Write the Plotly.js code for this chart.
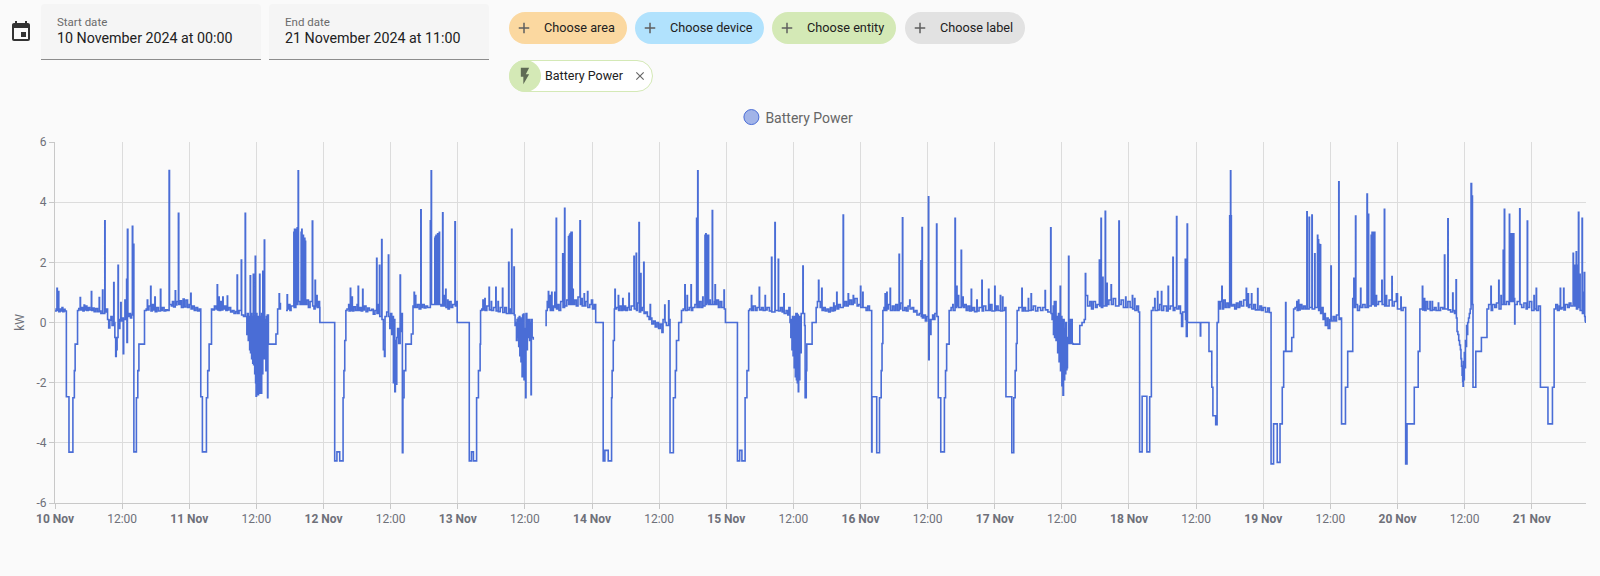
<!DOCTYPE html>
<html><head><meta charset="utf-8">
<script src="https://cdn.plot.ly/plotly-3.0.1.min.js"></script>
<style>
html,body{margin:0;padding:0;background:#fafafa;width:1600px;height:576px;overflow:hidden;font-family:Roboto,sans-serif}
#chart{position:absolute;left:0;top:0;width:1600px;height:576px}
.abs{position:absolute;box-sizing:border-box}
.field{background:#f5f5f5;border-bottom:1px solid #8c8c8c;height:56px;top:4px;border-radius:4px 4px 0 0}
.field .l{position:absolute;left:16px;top:11px;font-size:11.5px;color:#6b6b6b}
.field .v{position:absolute;left:16px;top:26px;font-size:14.25px;color:#212121;white-space:nowrap}
.chip{height:32px;top:12px;border-radius:16px;font-size:12.7px;color:#212121;line-height:32px;white-space:nowrap}
.chip svg{position:absolute;left:6px;top:7px}
.chip span{position:absolute;left:35px}
</style></head><body>
<div id="chart"></div>
<svg class="abs" style="left:9px;top:20px" width="24" height="24" viewBox="0 0 24 24"><path fill="#333" d="M19 19H5V8H19M16 1V3H8V1H6V3H5C3.89 3 3 3.89 3 5V19A2 2 0 0 0 5 21H19A2 2 0 0 0 21 19V5C21 3.89 20.1 3 19 3H18V1M17 12H12V17H17V12Z"/></svg>
<div class="abs field" style="left:41px;width:220px"><div class="l">Start date</div><div class="v">10 November 2024 at 00:00</div></div>
<div class="abs field" style="left:269px;width:220px"><div class="l">End date</div><div class="v">21 November 2024 at 11:00</div></div>
<div class="abs chip" style="left:509px;width:118px;background:#fbd8a0"><svg width="18" height="18" viewBox="0 0 24 24"><path fill="#5f5f5f" d="M19 13H13V19H11V13H5V11H11V5H13V11H19V13Z"/></svg><span>Choose area</span></div>
<div class="abs chip" style="left:635px;width:129px;background:#b1e2fd"><svg width="18" height="18" viewBox="0 0 24 24"><path fill="#5f5f5f" d="M19 13H13V19H11V13H5V11H11V5H13V11H19V13Z"/></svg><span>Choose device</span></div>
<div class="abs chip" style="left:772px;width:124px;background:#d4e9b6"><svg width="18" height="18" viewBox="0 0 24 24"><path fill="#5f5f5f" d="M19 13H13V19H11V13H5V11H11V5H13V11H19V13Z"/></svg><span>Choose entity</span></div>
<div class="abs chip" style="left:905px;width:120px;background:#e2e2e2"><svg width="18" height="18" viewBox="0 0 24 24"><path fill="#5f5f5f" d="M19 13H13V19H11V13H5V11H11V5H13V11H19V13Z"/></svg><span>Choose label</span></div>
<div class="abs chip" style="left:509px;top:60px;width:144px;background:#fff;border:1px solid #d4e9b6;font-size:12.5px">
<div class="abs" style="left:-1px;top:-1px;width:32px;height:32px;border-radius:16px;background:#d4e9b6"></div>
<svg style="left:5px;top:5px" width="20" height="20" viewBox="0 0 24 24"><path fill="#5f6b55" d="M7,2V13H10V22L17,10H13L17,2H7Z"/></svg>
<span style="left:35px;top:-1px">Battery Power</span>
<svg style="left:123px;top:8px" width="14" height="14" viewBox="0 0 24 24"><path fill="#666" d="M19 6.41L17.59 5 12 10.59 6.41 5 5 6.41 10.59 12 5 17.59 6.41 19 12 13.41 17.59 19 19 17.59 13.41 12z"/></svg>
</div>
<script>
const seriesName='Battery Power';
const unitLabel='kW';
const yTicks=[-6,-4,-2,0,2,4,6];
const dayLabels=['10 Nov','11 Nov','12 Nov','13 Nov','14 Nov','15 Nov','16 Nov','17 Nov','18 Nov','19 Nov','20 Nov','21 Nov'];
// hour since 10 Nov 00:00, kW (flat pairs); null marks a gap
const nov10=[0,.38,.2,.45,.35,1.14,.42,.4,.6,1.03,.68,.36,.9,.45,1.1,.38,1.25,.5,1.4,.36,1.6,.44,1.8,.38,2.03,-2.47,2.5,-4.31,3.2,-2.5,3.46,-1.6,3.6,-.72,4.03,.4,4.25,.46,4.5,.83,4.56,.42,4.8,.5,5,.38,5.2,.58,5.3,.42,5.5,.55,5.7,.4,5.95,.5,6.2,.42,6.5,1.03,6.56,.4,6.8,.48,7,.36,7.3,.46,7.6,.36,7.9,.83,7.96,.38,8.2,.3,8.5,1.08,8.56,.3,8.9,3.38,8.96,.35,9.2,.45,9.4,.1,9.6,-.18,9.8,.08,10,.2,10.2,-.1,10.5,1.33,10.56,0,10.7,-.5,10.85,-1.13,10.95,-.9,11.1,-.5,11.27,1.9,11.33,-.2,11.6,.1,11.75,.66,11.82,.05,12,.15,12.2,-1.04,12.28,.1,12.5,.75,12.6,.1,12.8,1.44,12.86,-.66,12.95,3.1,13.03,.2,13.3,.3,13.5,.15,13.7,.25,13.83,3.2,13.9,.3,14,2.6,14.1,-4.3,14.55,-2.5,14.8,-1.6,15,-.72,16,.4,16.3,.45,16.5,.75,16.57,.42,16.8,.55,17.1,1.2,17.16,.38,17.4,.6,17.6,.42,17.85,.85,17.92,.36,18.2,.5,18.5,.38,18.85,1.1,18.92,.4,19.2,.5,19.5,.38,19.8,.42,20.1,.4,20.4,5.05,20.47,.6,20.8,.55,21,.7,21.2,.52,21.5,1.05,21.56,.58,21.8,.7,22.06,3.63,22.13,.6,22.4,.72,22.6,.5,22.9,.78,23.1,.52,23.4,.75,23.7,.5,24,.6];
const nov11=[24.27,.97,24.33,.45,24.6,.55,24.9,.4,25.2,.5,25.5,.38,25.8,.45,26.06,-2.47,26.35,-4.3,27.07,-2.5,27.3,-1.6,27.55,-.72,27.98,.45,28.2,.42,28.5,.55,28.8,.45,29,1.25,29.06,.42,29.3,.85,29.36,.4,29.6,.7,29.8,.42,30,.85,30.06,.45,30.3,.55,30.55,.4,30.8,.88,30.86,.42,31.1,.5,31.4,.35,31.7,.4,32,.3,32.3,.36,32.56,1.58,32.62,.3,32.9,.4,33.3,2.08,33.36,.25,33.7,.2,34,3.63,34.06,.2,34.3,-.4,34.4,.3,34.55,-.6,34.65,.2,34.8,-.9,34.9,1.55,34.96,-1,35.05,.3,35.15,-1.2,35.25,.2,35.35,-1.35,35.45,1.6,35.51,-1.4,35.6,.2,35.7,-1.7,35.8,2.2,35.86,-2,35.95,-2.45,36.03,.3,36.1,-2.1,36.2,.1,36.3,-2.4,36.38,.2,36.5,-2.35,36.58,1.6,36.64,-2,36.75,.2,36.85,-2.35,36.95,.3,37.05,-1.7,37.15,1.7,37.22,-1.2,37.42,2.74,37.48,-1,37.6,.1,37.7,-1.6,37.8,.2,37.9,-1.6,37.96,.25,38,-2.5,38.06,.25,38.15,-.72,39.5,-.38,39.8,.45,40.07,.95,40.13,.45,40.3,.66,40.5,null,41.3,.4,41.5,.92,41.56,.45,41.8,.6,42,.4,42.2,.55,42.7,3,42.75,.5,42.82,3.1,42.87,.6,42.94,3,42.99,.5,43.06,3.1,43.11,.6,43.18,3.05,43.23,.7,43.3,3.15,43.35,.6,43.42,3.15,43.47,5.04,43.53,.7,43.8,.6,44,3,44.05,.6,44.12,3.1,44.17,.6,44.25,2.9,44.3,.7,44.37,2.9,44.42,.6,44.5,2.8,44.55,.7,44.62,2.8,44.67,.6,44.75,2.7,44.8,.6,45,.75,45.3,.5,45.6,.7,46,3.37,46.07,.55,46.3,.45,46.5,1.4,46.56,.55,46.8,.9,46.86,.5,47.1,.7,47.3,.5,47.35,0];
const nov12=[50,-4.6,50.4,-4.3,50.9,-4.6,51.5,-2.5,51.65,-1.6,51.8,-.6,52,.4,52.2,.45,52.5,.6,52.56,.38,52.8,1.14,52.86,.4,53.1,.85,53.16,.38,53.4,.52,53.7,.4,54,.6,54.2,1.2,54.26,.4,54.5,.5,54.75,.38,55,1.1,55.06,.42,55.3,.55,55.6,.36,55.9,.48,56.2,.4,56.6,.44,56.9,.28,57.2,.4,57.5,2.13,57.56,.3,57.8,.6,58,1.9,58.06,.2,58.4,2.76,58.46,.1,58.7,-.9,58.9,-1.13,59,.2,59.3,.35,59.6,2.24,59.66,.2,59.85,-.2,60,.3,60.2,-.4,60.35,.2,60.5,-2,60.6,.1,60.75,-2.3,60.85,-.6,60.95,-2.05,61.1,-.5,61.25,-.2,61.45,-.7,61.7,1.58,61.76,-.3,61.95,.3,62.1,-4.33,62.2,-2.5,62.4,-1.6,62.7,-.72,63.7,-.38,64,.55,64.2,1,64.26,.5,64.45,.9,64.5,.5,64.8,.6,65.1,.45,65.4,3.75,65.46,.5,65.7,.6,66,.48,66.3,.55,66.6,.5,67.1,3.38,67.15,.6,67.25,5.04,67.31,.6,67.6,.6,67.9,2.8,67.95,.6,68,2.85,68.05,.6,68.12,2.9,68.17,.65,68.25,2.9,68.3,.6,68.4,2.95,68.45,.6,68.55,2.95,68.6,.7,68.7,3,68.75,.6,69,.55,69.3,3.65,69.36,.55,69.6,.9,69.66,.55,69.85,1.1,69.9,.5,70.2,.75,70.26,.45,70.5,.7,70.8,.5,71.1,.6,71.5,3.35,71.57,.55,71.8,.7,71.9,0];
const nov13=[74.06,-4.6,74.45,-4.3,74.8,-4.6,75.37,-2.5,75.7,-1.6,76,-.72,76.08,.4,76.3,.45,76.5,.75,76.56,.42,76.85,.8,76.9,.4,77.2,.55,77.6,1.17,77.66,.42,78,.7,78.05,.4,78.4,.5,78.8,1.17,78.86,.38,79.2,.7,79.26,.36,79.6,.5,80,1.14,80.06,.33,80.4,.5,80.7,.3,81.1,2,81.16,.3,81.4,.45,81.63,3.1,81.69,.3,82.05,1.84,82.11,.25,82.25,-.1,82.4,0,82.5,-.6,82.6,.1,82.7,-.5,82.8,.15,82.9,-.8,83,.2,83.1,-1.1,83.2,.15,83.3,-1.3,83.4,.1,83.5,-1.8,83.6,.25,83.7,-1.5,83.75,.28,83.85,-1.9,84,-.2,84.13,-2.5,84.2,.3,84.35,-.9,84.45,.1,84.6,-.5,84.7,.1,84.85,-.6,84.95,0,85.1,-2.4,85.16,.1,85.3,-.5,85.5,-.57,85.85,null,87.65,-.1,87.8,.4,88,.7,88.2,1.03,88.26,.5,88.5,.9,88.55,.4,88.8,1,88.85,.4,89.1,.55,89.35,1,89.4,.5,89.6,3.46,89.66,.45,89.9,.6,90.1,.4,90.4,.7,90.76,2.28,90.82,.5,91.1,3.8,91.16,.55,91.5,.75,91.8,2.85,91.85,.6,91.95,2.9,92,.6,92.1,2.95,92.15,.7,92.25,3,92.3,.6,92.4,3,92.45,.65,92.6,1.1,92.65,.6,92.9,.75,93.2,.55,93.5,.85,93.85,3.38,93.92,.6,94.2,.8,94.25,.55,94.6,.95,94.65,.55,94.9,.7,95.2,1.03,95.26,.5,95.6,.6,95.9,.75,96.1,.45,96.4,.6,96.66,0];
const nov14=[98,-4.6,98.3,-4.25,98.9,-4.6,99.5,-2.5,99.6,-1.6,99.8,-.6,100,.45,100.1,1.1,100.16,.45,100.4,.5,100.7,.9,100.76,.4,101,.55,101.3,.4,101.5,.8,101.56,.42,101.8,.55,102,.4,102.3,.5,102.6,.97,102.66,.42,103,.55,103.5,2.2,103.56,.45,103.9,2.3,103.96,.4,104.1,.65,104.4,3.32,104.46,.35,104.7,1.63,104.76,.4,105,.5,105.25,2,105.31,.3,105.6,.35,105.9,.2,106.2,.1,106.4,.6,106.46,.15,106.7,-.05,107,.05,107.3,-.15,107.6,0,107.9,-.2,108.2,-.05,108.5,-.33,108.7,.1,109,.58,109.06,0,109.3,-.1,109.7,.72,109.76,.1,109.95,-4.33,110.55,-2.5,110.9,-1.6,111.1,-.6,111.5,0,112,.4,112.3,.45,112.6,1.25,112.66,.4,113,.9,113.06,.42,113.4,.5,113.7,1.25,113.76,.4,114,.5,114.4,.6,114.7,3.46,114.76,.5,114.9,5.04,114.96,.5,115.2,.7,115.5,.5,115.8,.85,115.86,.55,116.2,2.9,116.25,.6,116.35,2.95,116.4,.6,116.5,2.9,116.55,.65,116.65,2.85,116.7,.65,116.8,2.9,116.85,.6,117.1,.75,117.15,.6,117.5,3.72,117.56,.6,117.9,.7,118,1.25,118.06,.6,118.3,.75,118.6,.5,118.9,.7,119.2,.5,119.6,1.08,119.66,.45,119.85,0];
const nov15=[122,-4.6,122.4,-4.25,122.8,-4.6,123.37,-2.5,123.7,-1.6,124,.4,124.2,.45,124.5,.9,124.56,.4,124.85,.55,125.2,.4,125.5,.5,125.9,1.17,125.96,.42,126.3,.5,126.6,.4,126.95,.9,127,.42,127.3,.5,127.7,.38,128.1,2.17,128.16,.35,128.7,3.32,128.76,.4,129.3,2.1,129.36,.38,129.7,.5,130,.35,130.3,.95,130.36,.3,130.7,.4,131,.25,131.2,.5,131.4,0,131.55,-.5,131.65,.1,131.75,-.9,131.85,.2,131.95,-1.1,132.05,.15,132.15,-1.5,132.25,.2,132.35,-1.8,132.45,.3,132.55,-1.9,132.6,.3,132.7,-2,132.78,.25,132.88,-2.3,132.95,0,133.05,-1.9,133.15,.2,133.3,-1,133.4,.3,133.7,1.88,133.76,.3,134,-.1,134.1,-2.5,134.3,-1.6,134.4,-.72,135.35,0,136.07,.5,136.3,.7,136.5,1.4,136.56,.7,136.8,.5,137.07,1.14,137.13,.4,137.4,.5,137.7,.38,138,.45,138.3,.35,138.6,.5,138.9,.38,139.2,.65,139.26,.4,139.5,.55,139.75,1,139.81,.45,140.1,.6,140.4,.5,140.9,3.57,140.96,.55,141.2,.7,141.5,.55,141.8,.95,141.86,.6,142.1,.75,142.4,.6,142.7,.9,142.76,.65,143,.8,143.4,.55,143.7,.6];
const nov16=[144,1.2,144.06,.5,144.4,1,144.46,.5,145,.4,145.3,.55,145.6,.4,146,-4.3,146.06,-2.47,146.9,-4.33,147.4,-2.5,147.7,-1.6,147.85,-.7,148,.4,148.2,.5,148.4,.95,148.46,.4,148.7,1,148.76,.45,149,.6,149.3,1.14,149.36,.4,149.7,.55,150,.4,150.3,.6,150.6,.4,150.9,2.27,150.96,.45,151.2,.65,151.5,3.48,151.56,.4,151.9,.5,152.2,.38,152.5,.55,152.8,.75,152.86,.45,153.2,.5,153.5,.35,153.8,.4,154.1,.25,154.5,.3,154.8,2.05,154.86,.2,155,3.16,155.06,.15,155.3,.25,155.6,.05,155.85,.2,156.15,4.18,156.2,-1.24,156.28,.1,156.5,-.4,156.6,.1,156.9,.25,157.1,.1,157.3,.3,157.6,3.27,157.66,.2,157.9,-2.5,158.35,-4.3,159,-2.5,159.2,-1.6,159.4,-.72,159.85,.4,160.2,.5,160.5,.6,160.56,.4,160.9,3.46,160.96,.5,161.2,1.2,161.26,.55,161.5,.9,161.56,.5,162,2.4,162.06,.55,162.3,.85,162.36,.5,162.6,.6,162.9,.4,163.2,.55,163.5,.38,163.8,1.1,163.86,.4,164.1,.5,164.4,.36,164.8,.75,164.86,.38,165.2,.5,165.7,1.4,165.76,.38,166,.55,166.4,.4,166.9,1.1,166.96,.4,167.2,.6,167.5,.38,168,1.2];
const nov17=[168.06,.4,168.3,.55,168.6,.4,169,.9,169.06,.38,169.4,.85,169.46,.4,169.8,.5,170,-2.47,171.05,-4.33,171.4,-2.5,171.65,-1.6,171.85,-.7,172,.4,172.3,.5,172.85,1.14,172.91,.38,173.2,.5,173.5,.38,174,.8,174.06,.4,174.5,.95,174.56,.42,174.9,.55,175.3,.38,175.7,.5,176.2,.4,176.6,.5,177,1.06,177.06,.42,177.5,.35,178,3.15,178.06,.3,178.25,.1,178.45,.55,178.5,-.4,178.65,.7,178.7,-.5,178.9,.7,178.96,-.6,179.1,.2,179.25,-1,179.4,.3,179.5,-1.3,179.6,.1,179.7,1.2,179.76,-1.6,179.9,.2,180,-2.1,180.1,.1,180.2,-2.42,180.3,.1,180.4,-1.9,180.5,-.2,180.6,-1.7,180.7,0,180.8,-1.57,180.9,-1.5,181,-.5,181.2,2.2,181.26,-.7,181.35,.1,181.45,-.7,181.55,.1,181.65,-.7,181.75,.1,181.85,-.7,182,-.72,183.2,-.1,183.6,0,184,.1,184.2,1.63,184.26,.9,184.6,.55,185,.7,185.3,.45,185.6,.7,186,.5,186.3,.6,186.7,2.08,186.76,.55,187,3.46,187.06,.5,187.3,1.5,187.36,.55,187.75,3.7,187.81,.55,188.05,1.3,188.1,.6,188.4,.75,188.8,1.25,188.86,.6,189.2,.8,189.6,.55,190.2,3.37,190.26,.6,190.6,.75,191,.5,191.4,.85,191.46,.5,191.8,.7];
const nov18=[192.2,.5,192.6,.9,192.66,.45,193,.8,193.06,.4,193.4,.55,193.7,.35,193.9,-4.3,194.35,-2.45,195.2,-4.3,195.7,-2.47,196,.4,196.3,.5,196.6,.8,196.66,.4,197.1,1.03,197.16,.42,197.5,.6,197.8,1.03,197.86,.4,198.2,.55,198.7,.38,199,1.2,199.06,.45,199.4,.55,199.85,2.17,199.91,.4,200.2,.5,200.5,3.52,200.56,.45,200.9,.55,201.2,.3,201.4,-.13,201.6,.35,202.06,2.1,202.12,.1,202.25,-.46,202.4,3.27,202.46,0,204.75,-.45,204.82,0,206.3,-.96,206.8,-2.15,207,-3.1,207.5,-3.4,207.75,0,208,.7,208.05,.45,208.3,.7,208.6,1.2,208.66,.45,208.9,.75,209.2,.5,209.5,.65,209.8,.5,210,3.55,210.07,.6,210.15,5.04,210.2,3.55,210.3,.55,210.6,.6,210.9,.45,211.2,.65,211.5,.5,211.8,.7,212.1,.55,212.5,.75,212.96,1.14,213.02,.55,213.3,.95,213.36,.5,213.6,.6,213.9,.95,213.96,.45,214.3,.6,214.6,.42,215,1.13,215.06,.42,215.4,.55,215.7,.4];
const nov19=[216,.5,216.4,.35,216.8,.48,217.1,.33,217.4,-4.7,217.85,-3.37,218.5,-4.65,219,-3.37,219.4,-2.15,219.65,-.96,220,.66,220.06,-.96,221.1,-.5,221.43,.45,221.7,.5,222,.7,222.06,.4,222.3,.75,222.36,.42,222.6,.6,222.9,.45,223.2,.55,223.5,.45,223.8,3.68,223.86,.45,224.2,3.5,224.26,.5,224.7,3.57,224.76,.45,225.2,2.28,225.26,.5,225.7,2.9,225.75,.5,225.85,2.75,225.9,.4,226,2.6,226.05,.4,226.2,2.58,226.26,.3,226.45,.5,226.7,.1,226.9,.3,227.1,-.1,227.4,.15,227.6,-.2,227.9,.1,228.1,1.88,228.16,.05,228.5,.2,228.8,.05,229.1,.25,229.5,4.68,229.56,.1,229.8,.15,230,-3.37,230.7,-2.15,231.1,-.96,232,.8,232.2,1.47,232.3,.5,232.5,3.54,232.56,.6,232.85,.4,233.2,.55,233.4,1.14,233.46,.5,233.8,.6,234.2,.5,234.55,4.27,234.62,.5,234.8,3.6,234.85,.55,235.3,2.9,235.35,.6,235.45,3,235.5,.6,235.6,3,235.65,.6,235.75,3,235.8,.6,235.9,3,235.95,.55,236.2,.9,236.26,.6,236.6,.7,237.2,1.4,237.26,.6,237.65,3.76,237.71,.55,238,.9,238.06,.55,238.5,.75,239,1.53,239.06,.55,239.4,.7,239.8,.95];
const nov20=[240,.45,240.6,.85,240.66,.4,241,.5,241.46,-4.7,241.7,-3.37,243,-2.15,243.7,-.96,244,.45,244.45,1.2,244.51,.42,244.8,.8,244.86,.4,245.1,.7,245.4,.45,245.8,.7,245.86,.4,246.2,.7,246.26,.42,246.6,.5,246.9,.4,247.3,.65,247.36,.4,247.7,.5,248.1,.45,248.4,2.24,248.46,.45,249,3.45,249.06,.42,249.5,.35,249.87,.98,249.93,.4,250.2,.3,250.47,1.42,250.53,.15,250.65,-.3,250.8,-.4,250.95,-.6,251.1,-.75,251.25,-.9,251.35,-1.2,251.45,-1.45,251.55,-1.75,251.65,-1.95,251.72,-2.12,251.78,-1.3,251.85,-1.9,251.95,-1,252.05,-1.5,252.15,-.6,252.25,-.8,252.35,-.1,252.45,-.4,252.55,0,252.7,.15,252.85,.3,253,.45,253.15,4.62,253.25,4.2,253.4,.6,253.5,-2.15,254,-.96,255,-.5,256,.45,256.3,.6,256.7,1.2,256.76,.4,257,.6,257.4,.5,257.7,.65,258.1,1.4,258.16,.45,258.5,.9,258.56,.6,258.9,2.4,258.96,.6,259.1,3.76,259.16,.6,259.5,.7,259.9,.6,260,3.6,260.05,.7,260.15,2.95,260.2,.7,260.3,2.95,260.35,.7,260.45,2.95,260.5,.7,260.6,2.95,260.65,.7,260.75,2.95,260.8,.8,260.95,-.05,261,.6,261.4,.7,261.85,3.78,261.91,.6,262.2,.5,262.6,.65,263,.45,263.2,3.37,263.26,.5,263.6,.7];
const nov21=[264,.4,264.4,.9,264.46,.45,264.8,1.14,264.86,.4,265.2,.55,265.55,-2.15,266.9,-3.37,267.7,-2.15,268,.45,268.3,.6,268.6,.4,268.9,.55,269.1,1.14,269.16,.45,269.4,.5,269.7,1.14,269.76,.42,270,.6,270.4,.5,270.7,.65,271,.55,271.4,2.3,271.46,.6,271.65,1.9,271.7,.55,271.95,2.35,272,.45,272.2,1.9,272.35,3.66,272.42,.5,272.6,1.6,272.65,.4,273,3.46,273.06,.3,273.2,1,273.4,1.66,273.46,.2,273.55,.05,273.65,-.02];

const startMs=Date.UTC(2024,10,10);
const stamp=h=>new Date(startMs+h*3600000).toISOString().slice(0,19).replace('T',' ');
const flat=[].concat(nov10,nov11,nov12,nov13,nov14,nov15,nov16,nov17,nov18,nov19,nov20,nov21);
const xs=[],ys=[];
for(let i=0;i<flat.length;i+=2){xs.push(stamp(flat[i]));ys.push(flat[i+1]);}
const tickVals=[],tickText=[];
dayLabels.forEach((d,i)=>{
  tickVals.push(stamp(i*24));tickText.push('<b>'+d+'</b>');
  tickVals.push(stamp(i*24+12));tickText.push('12:00');
});
const lineColor='#4a6dd6';
const grid='#dcdcdc';
const traces=[
 {x:xs,y:ys,type:'scatter',mode:'lines',line:{color:lineColor,width:1.6,shape:'hv'},showlegend:false,connectgaps:false,hoverinfo:'x+y'},
 {x:[null],y:[null],type:'scatter',mode:'markers',name:seriesName,showlegend:true,
  marker:{size:15,color:'rgba(74,109,214,0.5)',line:{color:lineColor,width:1}}}
];
const layout={
 width:1600,height:576,paper_bgcolor:'#fafafa',plot_bgcolor:'rgba(0,0,0,0)',
 margin:{l:55.3,r:14.3,t:142,b:72.7,pad:0,autoexpand:false},
 font:{family:'Roboto, sans-serif',size:12,color:'#6e7079'},
 showlegend:true,
 legend:{x:0.4418,y:1.068,xanchor:'left',yanchor:'middle',orientation:'h',bgcolor:'rgba(0,0,0,0)',font:{size:14,color:'#666666',family:'Roboto, sans-serif'}},
 xaxis:{type:'date',range:[stamp(0),stamp(273.7)],tickmode:'array',tickvals:tickVals,ticktext:tickText,showgrid:true,gridcolor:grid,gridwidth:1,
   showline:true,linecolor:'#c8c8c8',ticks:'outside',ticklen:5,tickcolor:'#c8c8c8',tickfont:{size:12,color:'#6e7079'},zeroline:false,tickangle:0},
 yaxis:{range:[-6,6],tickmode:'array',tickvals:yTicks,ticktext:yTicks.map(String),showgrid:true,gridcolor:grid,gridwidth:1,
   showline:true,linecolor:'#c8c8c8',ticks:'outside',ticklen:5,tickcolor:'#c8c8c8',tickfont:{size:12,color:'#6e7079'},zeroline:false,
   title:{text:unitLabel,font:{size:12,color:'#6e7079'},standoff:9}}
};
Plotly.newPlot('chart',traces,layout,{displayModeBar:false,responsive:false,staticPlot:true}).then(()=>{
  const t=document.querySelector('.legendtext');
  if(t){t.setAttribute('x',parseFloat(t.getAttribute('x'))-6);}
});
</script>
</body></html>
